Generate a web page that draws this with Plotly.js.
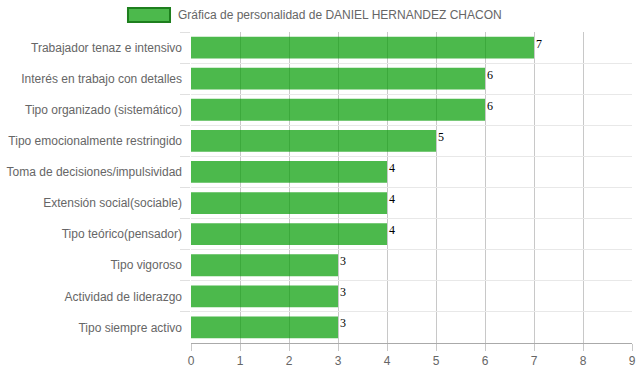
<!DOCTYPE html>
<html>
<head>
<meta charset="utf-8">
<script src="https://cdn.plot.ly/plotly-3.0.1.min.js"></script>
<style>html,body{margin:0;padding:0;background:#fff;}#chart{width:639px;height:372px;}</style>
</head>
<body>
<div id="chart"></div>
<script>
const categories = [
  "Trabajador tenaz e intensivo",
  "Interés en trabajo con detalles",
  "Tipo organizado (sistemático)",
  "Tipo emocionalmente restringido",
  "Toma de decisiones/impulsividad",
  "Extensión social(sociable)",
  "Tipo teórico(pensador)",
  "Tipo vigoroso",
  "Actividad de liderazgo",
  "Tipo siempre activo"
];
const values = [7, 6, 6, 5, 4, 4, 4, 3, 3, 3];
const seriesName = "Gráfica de personalidad de DANIEL HERNANDEZ CHACON";
const xTicks = [0, 1, 2, 3, 4, 5, 6, 7, 8, 9];

const barColor = "rgba(0,155,0,0.70)";

const trace = {
  type: "bar",
  orientation: "h",
  x: values,
  y: categories,
  name: seriesName,
  marker: {color: barColor, line: {width: 0}},
  hoverinfo: "x+y"
};

const valueLabels = values.map((v, i) => ({
  x: v, y: categories[i], xref: "x", yref: "y",
  text: String(v), showarrow: false,
  xanchor: "left", yanchor: "middle", xshift: 0, yshift: 4,
  font: {family: "Liberation Serif, Times New Roman, serif", size: 12, color: "#000"}
}));

const legendText = {
  xref: "paper", yref: "paper", x: -0.034, y: 1.0547,
  xanchor: "left", yanchor: "middle", showarrow: false,
  text: seriesName,
  font: {family: "Liberation Sans, Arial, sans-serif", size: 12, color: "#666"}
};

const layout = {
  width: 639, height: 372,
  margin: {l: 191, r: 7, t: 32, b: 29, pad: 0},
  paper_bgcolor: "#fff", plot_bgcolor: "#fff",
  showlegend: false,
  bargap: 0.3,
  font: {family: "Liberation Sans, Arial, sans-serif", size: 12, color: "#666"},
  xaxis: {
    range: [0, 9], tickvals: xTicks, ticktext: xTicks.map(String),
    showgrid: true, gridcolor: "#c8c8c8", gridwidth: 1,
    zeroline: false,
    showline: true, linecolor: "#aaa", linewidth: 1,
    ticks: "outside", ticklen: 7, tickcolor: "#c8c8c8",
    tickfont: {size: 12, color: "#666"}, fixedrange: true
  },
  yaxis: {
    type: "category", autorange: "reversed",
    tickson: "boundaries",
    showgrid: true, gridcolor: "#e8e8e8", gridwidth: 1,
    zeroline: false, showline: false,
    ticks: "outside", ticklen: 10, tickcolor: "#e0e0e0", tickwidth: 1,
    ticklabelstandoff: 8,
    tickfont: {size: 12, color: "#666"}, fixedrange: true
  },
  shapes: [{
    type: "rect", xref: "paper", yref: "paper",
    x0: -0.1429, x1: -0.0476, y0: 1.0322, y1: 1.0772,
    fillcolor: barColor, line: {color: "#1e7f1e", width: 2}
  }],
  annotations: valueLabels.concat([legendText])
};

Plotly.newPlot("chart", [trace], layout, {displayModeBar: false, staticPlot: true});
</script>
</body>
</html>
